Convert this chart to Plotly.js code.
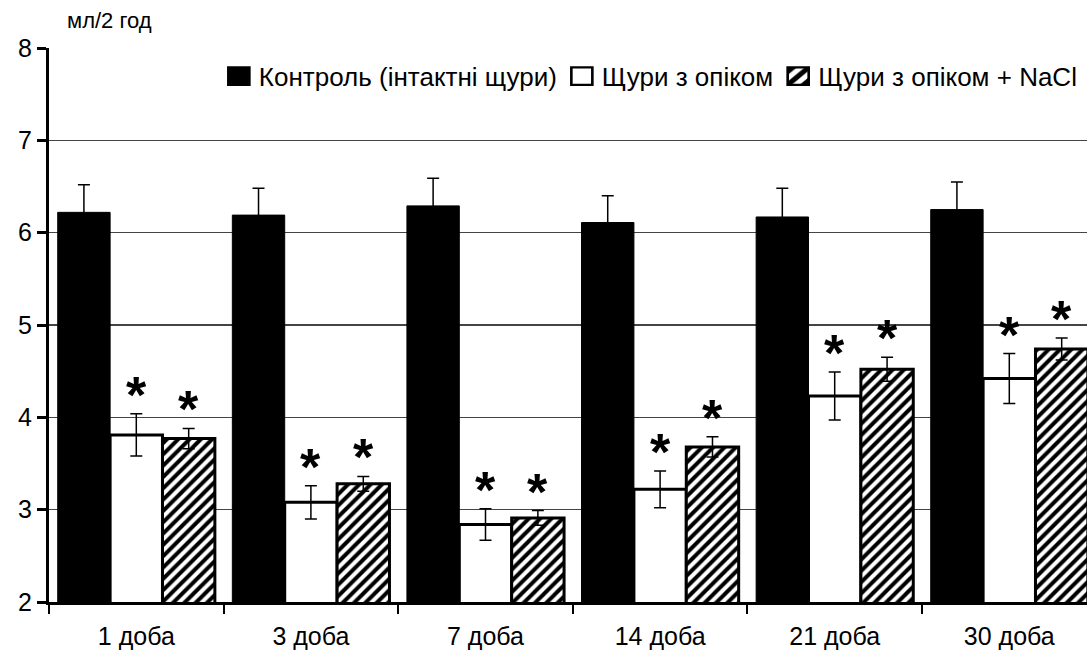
<!DOCTYPE html>
<html>
<head>
<meta charset="utf-8">
<script src="https://cdn.plot.ly/plotly-3.0.1.min.js"></script>
<style>html,body{margin:0;padding:0;background:#fff;}</style>
</head>
<body>
<div id="chart" style="width:1087px;height:659px;"></div>
<script>
const categories = ["1 доба", "3 доба", "7 доба", "14 доба", "21 доба", "30 доба"];
const seriesNames = ["Контроль (інтактні щури)", "Щури з опіком", "Щури з опіком + NaCl"];
const control = [6.22, 6.19, 6.29, 6.11, 6.17, 6.25];
const controlErr = [0.30, 0.29, 0.30, 0.29, 0.31, 0.30];
const burn = [3.81, 3.08, 2.84, 3.22, 4.23, 4.42];
const burnErr = [0.23, 0.18, 0.17, 0.20, 0.26, 0.27];
const burnNaCl = [3.77, 3.28, 2.91, 3.68, 4.52, 4.74];
const burnNaClErr = [0.11, 0.08, 0.08, 0.11, 0.13, 0.12];
const significant = [[true, true, true, true, true, true], [true, true, true, true, true, true]];
const yTicks = [2, 3, 4, 5, 6, 7, 8];
const unitLabel = "мл/2 год";

const FONT = "Liberation Sans, Arial, sans-serif";
const errStyle = (arr, w) => ({type: "data", array: arr, visible: true, color: "#000", thickness: 1.5, width: w});

const traces = [
  {type: "bar", name: seriesNames[0], x: categories, y: control,
   marker: {color: "#000", line: {color: "#000", width: 1}},
   error_y: errStyle(controlErr, 6)},
  {type: "bar", name: seriesNames[1], x: categories, y: burn,
   marker: {color: "#fff", line: {color: "#000", width: 3}},
   error_y: errStyle(burnErr, 6)},
  {type: "bar", name: seriesNames[2], x: categories, y: burnNaCl,
   marker: {color: "#fff", line: {color: "#000", width: 3},
            pattern: {shape: "/", fgcolor: "#000", bgcolor: "#fff", size: 8, solidity: 0.5}},
   error_y: errStyle(burnNaClErr, 6)}
];

const groupWidth = 0.9, nSeries = 3, barW = groupWidth / nSeries;
const annotations = [];
[[burn, burnErr], [burnNaCl, burnNaClErr]].forEach(([vals, errs], k) => {
  vals.forEach((v, i) => {
    if (!significant[k][i]) return;
    annotations.push({
      xref: "x", yref: "y", x: i + (k + 1 - (nSeries - 1) / 2) * barW, y: v + errs[i],
      text: "<b>*</b>", showarrow: false, xanchor: "center", yanchor: "bottom", yshift: -12,
      font: {family: FONT, size: 52, color: "#000"}
    });
  });
});
annotations.push({xref: "paper", yref: "paper", x: 0.015, y: 1.024, xanchor: "left", yanchor: "bottom",
  text: unitLabel, showarrow: false, font: {family: FONT, size: 22, color: "#000"}});

const layout = {
  width: 1087, height: 659,
  margin: {l: 49, r: 0, t: 48, b: 57},
  paper_bgcolor: "#fff", plot_bgcolor: "#fff",
  font: {family: FONT, color: "#000"},
  barmode: "group", bargap: 0.1, bargroupgap: 0,
  showlegend: true,
  legend: {orientation: "h", x: 0.996, xanchor: "right", y: 0.949, yanchor: "middle",
           font: {family: FONT, size: 26, color: "#000"}, bgcolor: "rgba(0,0,0,0)",
           itemwidth: 30, tracegroupgap: 0},
  xaxis: {type: "category", range: [-0.5, 5.445], showline: true, linecolor: "#000", linewidth: 3,
          ticks: "outside", tickson: "boundaries", ticklen: 9, tickwidth: 2, tickcolor: "#000",
          ticklabelstandoff: 10,
          tickfont: {family: FONT, size: 25, color: "#000"}, showgrid: false, zeroline: false, fixedrange: true},
  yaxis: {range: [2, 8], tickvals: yTicks, showline: true, linecolor: "#000", linewidth: 3,
          ticks: "outside", ticklen: 9, tickwidth: 3, tickcolor: "#000",
          tickfont: {family: FONT, size: 25, color: "#000"},
          showgrid: true, gridcolor: "#444", gridwidth: 1.2, zeroline: false, fixedrange: true},
  annotations: annotations
};

Plotly.newPlot("chart", traces, layout, {displayModeBar: false, staticPlot: true}).then(gd => {
  gd.querySelectorAll(".legend .legendpoints path").forEach(p => {
    const b = p.getBBox();
    const cx = b.x + b.width / 2, cy = b.y + b.height / 2;
    const prev = p.getAttribute("transform") || "";
    p.setAttribute("transform", prev + " translate(" + cx + "," + cy + ") scale(1.75,1.45) translate(" + (-cx) + "," + (-cy) + ")");
    p.style.strokeWidth = "1.5px";
  });
});
</script>
</body>
</html>
